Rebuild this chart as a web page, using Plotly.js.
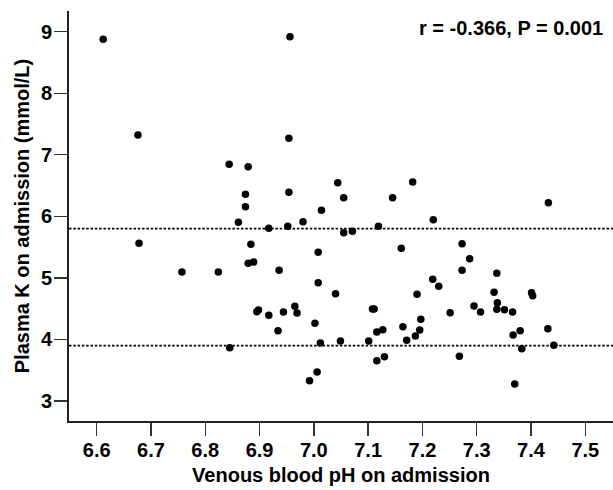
<!DOCTYPE html>
<html>
<head>
<meta charset="utf-8">
<script src="https://cdn.plot.ly/plotly-3.0.1.min.js"></script>
<style>html,body{margin:0;padding:0;background:#fff;}#chart{width:613px;height:490px;}</style>
</head>
<body>
<div id="chart"></div>
<script>
// Venous blood pH on admission
const venousPH = [
  6.612, 6.676, 6.844, 6.879, 6.874, 6.874, 6.956, 6.954, 6.954, 7.044,
  7.055, 7.145, 7.182, 7.014, 7.432, 6.861, 6.884, 6.879, 6.889, 6.678,
  6.757, 6.824, 6.895, 6.898, 6.845, 7.220, 6.917, 6.952, 6.980, 7.055,
  7.071, 7.119, 7.161, 7.008, 6.936, 7.008, 7.040, 7.190, 7.219, 7.230,
  6.917, 6.944, 6.965, 6.969, 6.934, 7.002, 7.012, 7.049, 7.108, 7.111,
  7.116, 7.127, 7.101, 7.116, 7.130, 7.006, 6.992, 7.164, 7.171, 7.187,
  7.195, 7.197, 7.273, 7.287, 7.273, 7.337, 7.332, 7.401, 7.403, 7.251,
  7.295, 7.307, 7.338, 7.337, 7.351, 7.366, 7.380, 7.367, 7.383, 7.431,
  7.442, 7.268, 7.370
];
// Plasma K on admission (mmol/L)
const plasmaK = [
  8.877, 7.320, 6.846, 6.807, 6.358, 6.157, 8.919, 7.268, 6.391, 6.547,
  6.303, 6.303, 6.558, 6.100, 6.222, 5.903, 5.546, 5.237, 5.258, 5.562,
  5.096, 5.096, 4.451, 4.478, 3.866, 5.946, 5.806, 5.838, 5.913, 5.735,
  5.757, 5.838, 5.481, 5.416, 5.123, 4.922, 4.743, 4.733, 4.977, 4.863,
  4.392, 4.446, 4.539, 4.430, 4.142, 4.262, 3.942, 3.975, 4.495, 4.495,
  4.121, 4.159, 3.975, 3.655, 3.720, 3.471, 3.330, 4.207, 3.986, 4.056,
  4.154, 4.327, 5.556, 5.312, 5.123, 5.075, 4.766, 4.760, 4.711, 4.435,
  4.543, 4.446, 4.597, 4.490, 4.484, 4.446, 4.142, 4.072, 3.850, 4.175,
  3.905, 3.726, 3.276
];
// Reference lines (mmol/L)
const refLines = [5.8, 3.9];
const xTicks = [6.6, 6.7, 6.8, 6.9, 7.0, 7.1, 7.2, 7.3, 7.4, 7.5];
const xTickLabels = ["6.6", "6.7", "6.8", "6.9", "7.0", "7.1", "7.2", "7.3", "7.4", "7.5"];
const yTicks = [3, 4, 5, 6, 7, 8, 9];
const statText = "r = -0.366, P = 0.001";

const FONT = '"Liberation Sans", Arial, Helvetica, sans-serif';

const trace = {
  type: 'scatter',
  mode: 'markers',
  x: venousPH,
  y: plasmaK,
  marker: {color: '#000', size: 7.5, line: {width: 0}},
  hoverinfo: 'none',
  showlegend: false
};

const shapes = refLines.map(v => ({
  type: 'line', xref: 'paper', yref: 'y',
  x0: 0, x1: 1, y0: v, y1: v,
  line: {color: '#000', width: 1.6, dash: '2.5px,1.8px'},
  layer: 'below'
}));

const layout = {
  width: 613, height: 490,
  margin: {l: 69, r: 0, t: 11, b: 69},
  paper_bgcolor: '#fff', plot_bgcolor: '#fff',
  font: {family: FONT, color: '#000'},
  showlegend: false,
  xaxis: {
    range: [6.549, 7.551],
    tickvals: xTicks, ticktext: xTickLabels,
    ticks: 'outside', ticklen: 13, tickwidth: 1.3, tickcolor: '#333',
    ticklabelstandoff: -3,
    showline: true, linecolor: '#222', linewidth: 2, mirror: false,
    showgrid: false, zeroline: false,
    tickfont: {family: FONT, size: 20, color: '#000', weight: 'bold'},
    title: {text: '<b>Venous blood pH on admission</b>', font: {family: FONT, size: 20, color: '#000'}, standoff: 8}
  },
  yaxis: {
    range: [2.675, 9.336],
    tickvals: yTicks,
    ticks: 'outside', ticklen: 13, tickwidth: 1.3, tickcolor: '#333',
    ticklabelstandoff: -2,
    showline: true, linecolor: '#222', linewidth: 2, mirror: false,
    showgrid: false, zeroline: false,
    tickfont: {family: FONT, size: 20, color: '#000', weight: 'bold'},
    title: {text: '<b>Plasma K on admission (mmol/L)</b>', font: {family: FONT, size: 20, color: '#000'}, standoff: 6}
  },
  shapes: shapes,
  annotations: [{
    xref: 'paper', yref: 'paper', x: 0.985, y: 1.0,
    xanchor: 'right', yanchor: 'middle',
    yshift: -17,
    text: '<b>' + statText + '</b>', showarrow: false,
    font: {family: FONT, size: 20, color: '#000'}
  }]
};

Plotly.newPlot('chart', [trace], layout, {displayModeBar: false, staticPlot: true});
</script>
</body>
</html>
